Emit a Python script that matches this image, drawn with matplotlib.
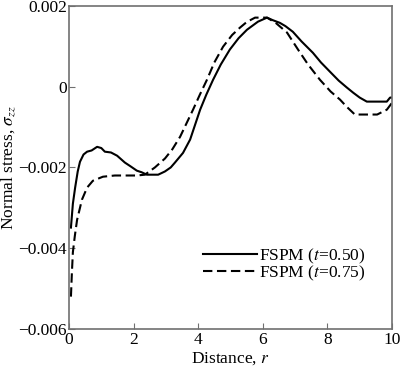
import matplotlib
matplotlib.use("Agg")
import matplotlib.pyplot as plt
import numpy as np

# solid curve, t = 0.50
r_050 = [0.06, 0.12, 0.19, 0.27, 0.34, 0.45, 0.56, 0.7, 0.87, 1.0, 1.11, 1.3, 1.49,
         1.73, 1.9, 2.1, 2.25, 2.41, 2.6, 2.76, 2.97, 3.15, 3.28, 3.53, 3.75, 4.06,
         4.25, 4.46, 4.7, 4.98, 5.25, 5.51, 5.85, 6.13, 6.3, 6.53, 6.7, 6.93, 7.2,
         7.55, 7.8, 8.08, 8.35, 8.6, 8.8, 9.0, 9.22, 9.5, 9.84, 9.94, 10.0]
s_050 = [-0.00349, -0.0029, -0.0025, -0.0021, -0.00186, -0.00168, -0.00161, -0.00158,
         -0.00149, -0.00152, -0.00161, -0.00163, -0.00171, -0.00188, -0.00197,
         -0.00208, -0.00212, -0.00218, -0.00218, -0.00218, -0.0021, -0.002, -0.00188,
         -0.00164, -0.00131, -0.00057, -0.0002, 0.00017, 0.00055, 0.00092, 0.0012,
         0.00141, 0.00161, 0.00171, 0.00165, 0.00158, 0.0015, 0.00136, 0.00112,
         0.00084, 0.0006, 0.00037, 0.00015, -0.00002, -0.00015, -0.00027, -0.00037,
         -0.00037, -0.00037, -0.00027, -0.00027]

# dashed curve, t = 0.75
r_075 = [0.06, 0.09, 0.12, 0.18, 0.25, 0.4, 0.56, 0.74, 1.05, 1.42, 1.8, 2.1, 2.35,
         2.66, 2.97, 3.2, 3.44, 3.84, 4.05, 4.27, 4.5, 4.77, 5.05, 5.29, 5.5, 5.76,
         6.13, 6.4, 6.75, 7.09, 7.4, 7.77, 8.1, 8.39, 8.6, 8.85, 9.2, 9.54, 9.84, 10.0]
s_075 = [-0.0052, -0.0046, -0.0041, -0.0037, -0.0033, -0.0028, -0.0025, -0.00233,
         -0.00223, -0.0022, -0.0022, -0.0022, -0.00218, -0.002, -0.00178, -0.00155,
         -0.00124, -0.00057, -0.0002, 0.00017, 0.0006, 0.00099, 0.00128, 0.00146,
         0.0016, 0.00171, 0.00171, 0.00158, 0.00134, 0.00092, 0.00055, 0.00017,
         -0.00012, -0.00032, -0.0005, -0.00069, -0.00069, -0.00069, -0.00057, -0.0004]

labels = ["FSPM ($t$=0.50)", "FSPM ($t$=0.75)"]
x_ticks = [0, 2, 4, 6, 8, 10]
y_ticks = [-0.006, -0.004, -0.002, 0, 0.002]
y_ticklabels = ["\u22120.006", "\u22120.004", "\u22120.002", "0", "0.002"]

plt.rcParams['font.family'] = 'Liberation Serif'
plt.rcParams['mathtext.fontset'] = 'stix'
plt.rcParams['font.size'] = 12.5

fig = plt.figure(figsize=(4, 3.7), dpi=100)
ax = fig.add_axes([0.1725, 0.111, 0.8075, 0.873])

ax.plot(r_050, s_050, '-', color='black', lw=1.5, label=labels[0])
ax.plot(r_075, s_075, '--', color='black', lw=1.5, dashes=(4.5, 2.2), label=labels[1])

ax.set_xlim(0, 10)
ax.set_ylim(-0.006, 0.002)
ax.set_xticks(x_ticks)
ax.set_xticklabels([str(v) for v in x_ticks])
ax.set_yticks(y_ticks)
ax.set_yticklabels(y_ticklabels)
ax.tick_params(direction='in', length=4, color='#707070')
ax.tick_params(axis='x', pad=2.5)
ax.tick_params(axis='y', pad=1.5)

for sp in ax.spines.values():
    sp.set_color('#707070')
    sp.set_linewidth(1.2)

ax.set_xlabel("Distance, $r$", labelpad=1)
ax.set_ylabel("Normal stress, $\\sigma_{zz}$", labelpad=0)

ax.legend(loc='lower right', bbox_to_anchor=(0.945, 0.115), frameon=False,
          handlelength=3.1, handletextpad=0.1, labelspacing=-0.1, borderpad=0)

fig.savefig("out.png", dpi=100)
